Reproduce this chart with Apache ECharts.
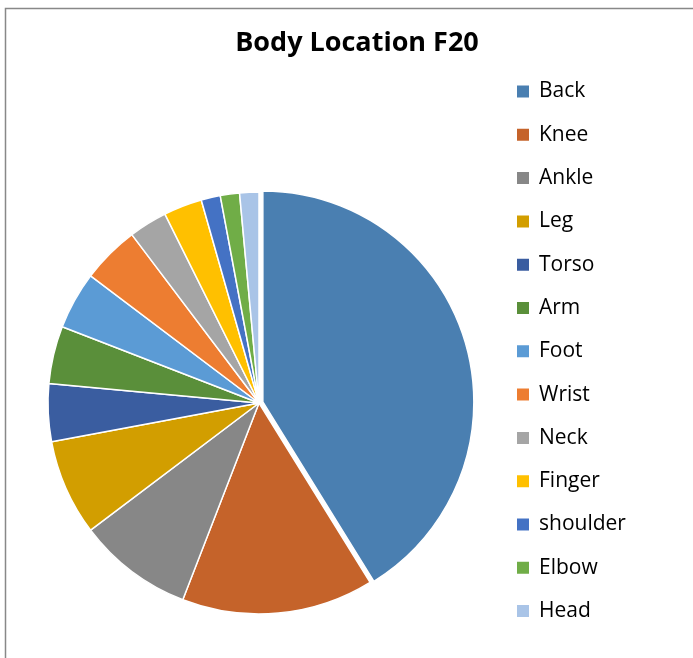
<!DOCTYPE html>
<html>
<head>
<meta charset="utf-8">
<script src="https://cdn.jsdelivr.net/npm/echarts@6/dist/echarts.min.js"></script>
<style>html,body{margin:0;padding:0;background:#fff;}#chart{width:693px;height:658px;}</style>
</head>
<body>
<div id="chart"></div>
<script>
const categories = ['Back','Knee','Ankle','Leg','Torso','Arm','Foot','Wrist','Neck','Finger','shoulder','Elbow','Head'];
const values = [28,10,6,5,3,3,3,3,2,2,1,1,1];
const colors = ['#4a7fb1','#c5632a','#878787','#d29e00','#3a5da0','#5a8f3a','#5b9bd5','#ed7d31','#a5a5a5','#ffc000','#4472c4','#70ad47','#a9c4e7'];

const chart = echarts.init(document.getElementById('chart'));
const data = categories.map((c, i) => ({
  name: c,
  value: values[i],
  selected: i === 0,
  itemStyle: { color: colors[i] }
}));
chart.setOption({
  animation: false,
  backgroundColor: '#fff',
  graphic: [{
    type: 'polyline',
    shape: { points: [[5.5, 700], [5.5, 8.5], [720, 8.5]] },
    style: { fill: 'none', stroke: '#888888', lineWidth: 1.5 },
    silent: true
  }],
  title: {
    text: 'Body Location F20',
    left: 352,
    textAlign: 'center',
    top: 25,
    textStyle: { fontFamily: 'Open Sans', fontWeight: 'bold', fontSize: 27, color: '#000' }
  },
  legend: {
    orient: 'vertical',
    left: 510,
    top: 76,
    itemWidth: 14,
    itemHeight: 14,
    itemGap: 22.3,
    icon: 'rect',
    selectedMode: false,
    textStyle: { fontFamily: 'Open Sans', fontSize: 21, color: '#000', lineHeight: 21, padding: [0, 0, 0, 4] },
    data: categories
  },
  series: [{
    type: 'pie',
    center: [259, 403],
    radius: [0, 211],
    startAngle: 90,
    clockwise: true,
    selectedMode: 'single',
    selectedOffset: 4,
    label: { show: false },
    labelLine: { show: false },
    emphasis: { disabled: true },
    itemStyle: { borderColor: '#fff', borderWidth: 1.5 },
    data: data
  }]
});
</script>
</body>
</html>
